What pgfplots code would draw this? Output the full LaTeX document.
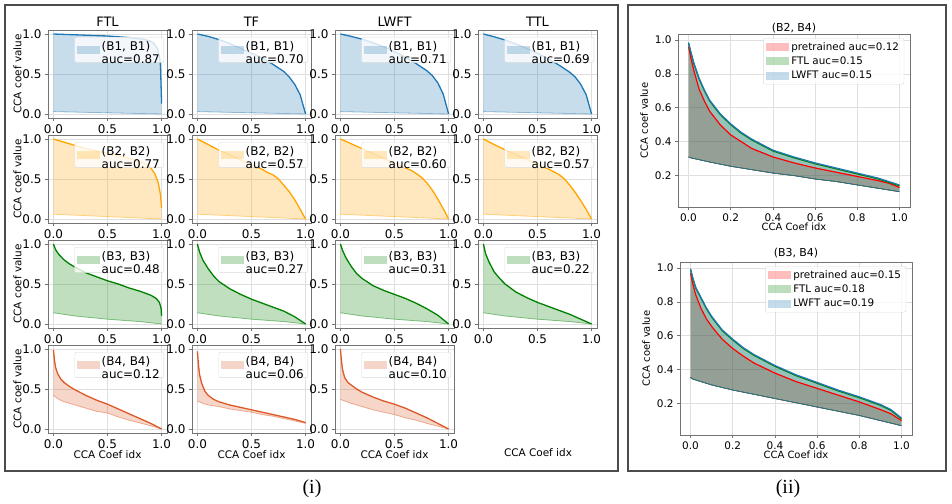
\documentclass[border=0pt]{standalone}
\usepackage{pgfplots}
\pgfplotsset{compat=1.18}
\usepgfplotslibrary{fillbetween}
\usepackage{fontspec}
\setmainfont{DejaVu Sans}
\newfontfamily\capfont{Liberation Serif}

\definecolor{cblue}{HTML}{1F77B4}
\definecolor{corange}{HTML}{FFA500}
\definecolor{cgreen}{HTML}{008000}
\definecolor{cred}{HTML}{DC5A28}
\definecolor{pred}{HTML}{FF0000}

\pgfplotsset{
  patch/.style={legend image code/.code={\fill[##1, draw=none, sharp corners] (0bp,-4bp) rectangle (23bp,4bp);}},
  cca/.style={scale only axis, anchor=north west,
    axis line style={black!55}, tick style={black!55, line width=0.6bp},
    grid=major, grid style={gray!25, line width=0.6bp},
    tick align=outside, tick pos=left, major tick length=3bp,
    xlabel shift=-5bp,
    /pgf/number format/assume math mode=true,
    xticklabel style={/pgf/number format/fixed, /pgf/number format/fixed zerofill, /pgf/number format/precision=1},
    yticklabel style={/pgf/number format/fixed, /pgf/number format/fixed zerofill, /pgf/number format/precision=1},
    legend cell align=left,
  },
  small/.style={cca, width=119bp, height=88bp,
    xmin=-0.05, xmax=1.05, ymin=-0.05, ymax=1.05,
    xtick={0,0.5,1}, ytick={0,0.5,1},
    ylabel shift=-6bp,
    tick label style={font=\fontsize{12}{13}\selectfont},
    label style={font=\fontsize{10.5}{12}\selectfont},
    legend style={at={(0.975,0.92)}, anchor=north east,
      nodes={font=\fontsize{12}{13}\selectfont},
      fill=white, fill opacity=0.8,
      text opacity=1, draw=black!15, rounded corners=2bp, inner sep=2bp},
  },
  big/.style={cca, width=232bp, height=173bp,
    xmin=-0.05, xmax=1.05, ymin=0.015, ymax=1.035,
    xtick={0,0.2,0.4,0.6,0.8,1}, ytick={0.2,0.4,0.6,0.8,1},
    tick label style={font=\fontsize{10.5}{12}\selectfont},
    label style={font=\fontsize{10}{12}\selectfont},
    xlabel={CCA Coef idx}, ylabel={CCA coef value},
    legend style={at={(0.975,0.975)}, anchor=north east,
      nodes={font=\fontsize{10.4}{12}\selectfont},
      fill=white, fill opacity=0.8,
      text opacity=1, draw=black!15, rounded corners=2bp,
      row sep=1bp},
  },
}

% one small panel: position, options, colour, upper curve, lower curve, pair, auc
\newcommand{\cell}[7]{%
\begin{axis}[small, at={(#1)}, #2]
\addplot[name path=u, #3, line width=1.3bp, forget plot] coordinates {#4};
\addplot[name path=l, #3, opacity=0.45, line width=0.8bp, forget plot] coordinates {#5};
\addplot[fill=#3, fill opacity=0.25, draw=none, patch] fill between[of=u and l];
\addlegendentry{\begin{tabular}{@{}l@{}}#6\\auc=#7\end{tabular}}
\end{axis}}

\begin{document}
\begin{tikzpicture}
\path (0,0) rectangle (952bp,-504bp);

\draw[black!70, line width=1.3bp] (5bp,-5bp) rectangle (618bp,-471bp);
\draw[black!70, line width=1.3bp] (628bp,-5bp) rectangle (946bp,-471bp);
\node[font=\capfont\fontsize{20}{22}\selectfont] at (312bp,-489bp) {(i)};
\node[font=\capfont\fontsize{20}{22}\selectfont] at (788bp,-489bp) {(ii)};

% column titles
\begin{scope}[every node/.style={font=\fontsize{13}{15}\selectfont}]
\node at (107.5bp,-22bp) {FTL};
\node at (251.5bp,-22bp) {TF};
\node at (394.5bp,-22bp) {LWFT};
\node at (537.5bp,-22bp) {TTL};
\end{scope}
\node[font=\fontsize{11}{13}\selectfont] at (794bp,-28bp) {(B2, B4)};
\node[font=\fontsize{11}{13}\selectfont] at (796bp,-253bp) {(B3, B4)};

% ---- row 1 (B1, B1)
\cell{48bp,-30bp}{ylabel={CCA coef value}}{cblue}
 {(0,1) (0.1,0.995) (0.2,0.99) (0.3,0.985) (0.4,0.98) (0.5,0.975) (0.6,0.965) (0.7,0.955) (0.8,0.94) (0.85,0.93) (0.9,0.91) (0.93,0.88) (0.96,0.82) (0.98,0.72) (0.99,0.6) (1,0.13)}
 {(0,0.03) (0.5,0.015) (1,0)}{(B1, B1)}{0.87}
\cell{192bp,-30bp}{yticklabel={}}{cblue}
 {(0,1) (0.1,0.97) (0.2,0.93) (0.3,0.88) (0.4,0.82) (0.5,0.76) (0.6,0.7) (0.7,0.62) (0.8,0.53) (0.85,0.46) (0.9,0.37) (0.95,0.24) (1,0)}
 {(0,0.03) (0.5,0.015) (1,0)}{(B1, B1)}{0.70}
\cell{335bp,-30bp}{yticklabel={}}{cblue}
 {(0,1) (0.1,0.97) (0.2,0.935) (0.3,0.89) (0.4,0.84) (0.5,0.78) (0.6,0.71) (0.7,0.63) (0.8,0.54) (0.85,0.48) (0.9,0.39) (0.95,0.25) (1,0)}
 {(0,0.03) (0.5,0.015) (1,0)}{(B1, B1)}{0.71}
\cell{478bp,-30bp}{yticklabel={}}{cblue}
 {(0,1) (0.1,0.965) (0.2,0.925) (0.3,0.875) (0.4,0.82) (0.5,0.76) (0.6,0.69) (0.7,0.61) (0.8,0.52) (0.85,0.46) (0.9,0.37) (0.95,0.24) (1,0)}
 {(0,0.03) (0.5,0.015) (1,0)}{(B1, B1)}{0.69}

% ---- row 2 (B2, B2)
\cell{48bp,-135bp}{ylabel={CCA coef value}}{corange}
 {(0,1) (0.1,0.96) (0.2,0.92) (0.3,0.88) (0.4,0.85) (0.5,0.82) (0.6,0.79) (0.7,0.76) (0.8,0.72) (0.85,0.69) (0.9,0.64) (0.94,0.56) (0.97,0.45) (0.99,0.3) (1,0.14)}
 {(0,0.06) (0.5,0.03) (1,0)}{(B2, B2)}{0.77}
\cell{192bp,-135bp}{yticklabel={}}{corange}
 {(0,1) (0.1,0.93) (0.2,0.86) (0.3,0.8) (0.4,0.74) (0.5,0.68) (0.6,0.62) (0.65,0.58) (0.7,0.55) (0.75,0.5) (0.8,0.42) (0.85,0.34) (0.9,0.24) (0.95,0.12) (1,0)}
 {(0,0.06) (0.5,0.03) (1,0)}{(B2, B2)}{0.57}
\cell{335bp,-135bp}{yticklabel={}}{corange}
 {(0,1) (0.1,0.94) (0.2,0.88) (0.3,0.82) (0.4,0.76) (0.5,0.7) (0.6,0.64) (0.65,0.61) (0.7,0.57) (0.75,0.52) (0.8,0.45) (0.85,0.36) (0.9,0.25) (0.95,0.13) (1,0)}
 {(0,0.06) (0.5,0.03) (1,0)}{(B2, B2)}{0.60}
\cell{478bp,-135bp}{yticklabel={}}{corange}
 {(0,1) (0.1,0.93) (0.2,0.865) (0.3,0.805) (0.4,0.745) (0.5,0.685) (0.6,0.625) (0.65,0.59) (0.7,0.555) (0.75,0.5) (0.8,0.42) (0.85,0.33) (0.9,0.23) (0.95,0.12) (1,0)}
 {(0,0.06) (0.5,0.03) (1,0)}{(B2, B2)}{0.57}

% ---- row 3 (B3, B3)
\cell{48bp,-240bp}{ylabel={CCA coef value}}{cgreen}
 {(0,1) (0.02,0.93) (0.05,0.87) (0.1,0.8) (0.15,0.75) (0.2,0.71) (0.3,0.64) (0.4,0.59) (0.5,0.54) (0.6,0.5) (0.7,0.45) (0.8,0.41) (0.9,0.36) (0.95,0.32) (0.98,0.27) (0.995,0.2) (1,0.1)}
 {(0,0.14) (0.2,0.1) (0.5,0.06) (0.8,0.03) (1,0)}{(B3, B3)}{0.48}
\cell{192bp,-240bp}{yticklabel={}}{cgreen}
 {(0,1) (0.02,0.9) (0.05,0.8) (0.1,0.69) (0.15,0.6) (0.2,0.53) (0.3,0.44) (0.4,0.37) (0.5,0.31) (0.6,0.26) (0.7,0.21) (0.8,0.16) (0.9,0.09) (1,0)}
 {(0,0.14) (0.2,0.1) (0.5,0.06) (0.8,0.03) (1,0)}{(B3, B3)}{0.27}
\cell{335bp,-240bp}{yticklabel={}}{cgreen}
 {(0,1) (0.02,0.92) (0.05,0.83) (0.1,0.72) (0.15,0.63) (0.2,0.57) (0.3,0.48) (0.4,0.42) (0.5,0.37) (0.6,0.32) (0.7,0.26) (0.8,0.19) (0.9,0.11) (1,0)}
 {(0,0.14) (0.2,0.1) (0.5,0.06) (0.8,0.03) (1,0)}{(B3, B3)}{0.31}
\cell{478bp,-240bp}{yticklabel={}}{cgreen}
 {(0,1) (0.02,0.88) (0.05,0.78) (0.1,0.65) (0.15,0.57) (0.2,0.5) (0.3,0.4) (0.4,0.33) (0.5,0.27) (0.6,0.22) (0.7,0.17) (0.8,0.12) (0.9,0.06) (1,0)}
 {(0,0.14) (0.2,0.1) (0.5,0.06) (0.8,0.03) (1,0)}{(B3, B3)}{0.22}

% ---- row 4 (B4, B4)
\cell{48bp,-345bp}{ylabel={CCA coef value}, xlabel={CCA Coef idx}}{cred}
 {(0,0.99) (0.01,0.86) (0.02,0.77) (0.04,0.69) (0.07,0.62) (0.1,0.58) (0.15,0.53) (0.2,0.49) (0.3,0.42) (0.4,0.36) (0.5,0.31) (0.6,0.25) (0.7,0.19) (0.8,0.13) (0.9,0.07) (1,0)}
 {(0,0.42) (0.05,0.37) (0.1,0.34) (0.2,0.3) (0.3,0.26) (0.4,0.22) (0.5,0.2) (0.6,0.15) (0.7,0.11) (0.8,0.075) (0.9,0.04) (1,0)}{(B4, B4)}{0.12}
\cell{192bp,-345bp}{yticklabel={}, xlabel={CCA Coef idx}}{cred}
 {(0,0.97) (0.01,0.8) (0.02,0.68) (0.04,0.57) (0.07,0.47) (0.1,0.42) (0.15,0.37) (0.2,0.34) (0.3,0.3) (0.4,0.27) (0.5,0.24) (0.6,0.21) (0.7,0.18) (0.8,0.15) (0.9,0.12) (1,0.08)}
 {(0,0.35) (0.05,0.32) (0.1,0.3) (0.2,0.28) (0.3,0.25) (0.4,0.23) (0.5,0.21) (0.6,0.18) (0.7,0.16) (0.8,0.13) (0.9,0.1) (1,0.07)}{(B4, B4)}{0.06}
\cell{335bp,-345bp}{yticklabel={}, xlabel={CCA Coef idx}}{cred}
 {(0,1) (0.01,0.85) (0.02,0.74) (0.04,0.64) (0.07,0.58) (0.1,0.55) (0.15,0.5) (0.2,0.46) (0.3,0.4) (0.4,0.35) (0.5,0.31) (0.6,0.26) (0.7,0.2) (0.8,0.14) (0.9,0.07) (1,0)}
 {(0,0.37) (0.1,0.32) (0.2,0.28) (0.3,0.24) (0.4,0.21) (0.5,0.18) (0.6,0.14) (0.7,0.11) (0.8,0.07) (0.9,0.035) (1,0)}{(B4, B4)}{0.10}
\node[font=\fontsize{10.5}{12}\selectfont] at (538bp,-453bp) {CCA Coef idx};

% ---- (ii) (B2, B4)
\begin{axis}[big, at={(678bp,-34bp)}]
\addplot[name path=pu, pred, line width=1.2bp, forget plot] coordinates {(0,0.96) (0.01,0.9) (0.025,0.82) (0.05,0.71) (0.075,0.64) (0.1,0.58) (0.15,0.5) (0.2,0.44) (0.25,0.4) (0.3,0.36) (0.4,0.31) (0.5,0.275) (0.6,0.245) (0.7,0.22) (0.8,0.195) (0.9,0.17) (0.95,0.155) (1,0.13)};
\addplot[name path=pl, pred, line width=0.6bp, forget plot] coordinates {(0,0.31) (0.01,0.305) (0.1,0.28) (0.2,0.255) (0.3,0.235) (0.4,0.215) (0.5,0.2) (0.6,0.18) (0.7,0.165) (0.8,0.145) (0.9,0.125) (1,0.105)};
\addplot[fill=pred, fill opacity=0.26, draw=none, patch] fill between[of=pu and pl];
\addlegendentry{pretrained auc=0.12}
\addplot[name path=fu, cgreen, line width=1.2bp, forget plot] coordinates {(0,0.98) (0.01,0.93) (0.025,0.86) (0.05,0.77) (0.075,0.7) (0.1,0.64) (0.15,0.56) (0.2,0.5) (0.25,0.45) (0.3,0.41) (0.4,0.345) (0.5,0.305) (0.6,0.27) (0.7,0.24) (0.8,0.21) (0.9,0.18) (0.95,0.16) (1,0.14)};
\addplot[name path=fl, cgreen, line width=0.6bp, forget plot] coordinates {(0,0.31) (0.01,0.305) (0.1,0.28) (0.2,0.255) (0.3,0.235) (0.4,0.215) (0.5,0.2) (0.6,0.18) (0.7,0.165) (0.8,0.145) (0.9,0.125) (1,0.105)};
\addplot[fill=cgreen, fill opacity=0.26, draw=none, patch] fill between[of=fu and fl];
\addlegendentry{FTL auc=0.15}
\addplot[name path=lu, cblue, line width=1.2bp, forget plot] coordinates {(0,0.985) (0.01,0.935) (0.025,0.865) (0.05,0.775) (0.075,0.705) (0.1,0.645) (0.15,0.565) (0.2,0.505) (0.25,0.455) (0.3,0.415) (0.4,0.35) (0.5,0.31) (0.6,0.275) (0.7,0.245) (0.8,0.215) (0.9,0.185) (0.95,0.165) (1,0.145)};
\addplot[name path=ll, cblue, line width=0.6bp, forget plot] coordinates {(0,0.31) (0.01,0.305) (0.1,0.28) (0.2,0.255) (0.3,0.235) (0.4,0.215) (0.5,0.2) (0.6,0.18) (0.7,0.165) (0.8,0.145) (0.9,0.125) (1,0.105)};
\addplot[fill=cblue, fill opacity=0.26, draw=none, patch] fill between[of=lu and ll];
\addlegendentry{LWFT auc=0.15}
\end{axis}

% ---- (ii) (B3, B4)
\begin{axis}[big, at={(680bp,-262bp)}]
\addplot[name path=pu, pred, line width=1.2bp, forget plot] coordinates {(0,0.97) (0.01,0.91) (0.025,0.84) (0.05,0.76) (0.075,0.7) (0.1,0.655) (0.15,0.58) (0.2,0.525) (0.25,0.48) (0.3,0.44) (0.4,0.38) (0.5,0.33) (0.6,0.29) (0.7,0.25) (0.8,0.21) (0.9,0.165) (0.95,0.14) (1,0.1)};
\addplot[name path=pl, pred, line width=0.6bp, forget plot] coordinates {(0,0.355) (0.01,0.345) (0.1,0.31) (0.2,0.28) (0.3,0.255) (0.4,0.23) (0.5,0.205) (0.6,0.18) (0.7,0.155) (0.8,0.13) (0.9,0.1) (1,0.07)};
\addplot[fill=pred, fill opacity=0.26, draw=none, patch] fill between[of=pu and pl];
\addlegendentry{pretrained auc=0.15}
\addplot[name path=fu, cgreen, line width=1.2bp, forget plot] coordinates {(0,0.99) (0.01,0.94) (0.025,0.88) (0.05,0.82) (0.075,0.76) (0.1,0.71) (0.15,0.63) (0.2,0.575) (0.25,0.525) (0.3,0.485) (0.4,0.42) (0.5,0.365) (0.6,0.32) (0.7,0.275) (0.8,0.235) (0.9,0.19) (0.95,0.16) (1,0.11)};
\addplot[name path=fl, cgreen, line width=0.6bp, forget plot] coordinates {(0,0.355) (0.01,0.345) (0.1,0.31) (0.2,0.28) (0.3,0.255) (0.4,0.23) (0.5,0.205) (0.6,0.18) (0.7,0.155) (0.8,0.13) (0.9,0.1) (1,0.07)};
\addplot[fill=cgreen, fill opacity=0.26, draw=none, patch] fill between[of=fu and fl];
\addlegendentry{FTL auc=0.18}
\addplot[name path=lu, cblue, line width=1.2bp, forget plot] coordinates {(0,0.995) (0.01,0.945) (0.025,0.885) (0.05,0.825) (0.075,0.765) (0.1,0.715) (0.15,0.635) (0.2,0.58) (0.25,0.53) (0.3,0.49) (0.4,0.425) (0.5,0.37) (0.6,0.325) (0.7,0.28) (0.8,0.24) (0.9,0.195) (0.95,0.165) (1,0.115)};
\addplot[name path=ll, cblue, line width=0.6bp, forget plot] coordinates {(0,0.355) (0.01,0.345) (0.1,0.31) (0.2,0.28) (0.3,0.255) (0.4,0.23) (0.5,0.205) (0.6,0.18) (0.7,0.155) (0.8,0.13) (0.9,0.1) (1,0.07)};
\addplot[fill=cblue, fill opacity=0.26, draw=none, patch] fill between[of=lu and ll];
\addlegendentry{LWFT auc=0.19}
\end{axis}
\end{tikzpicture}
\end{document}
